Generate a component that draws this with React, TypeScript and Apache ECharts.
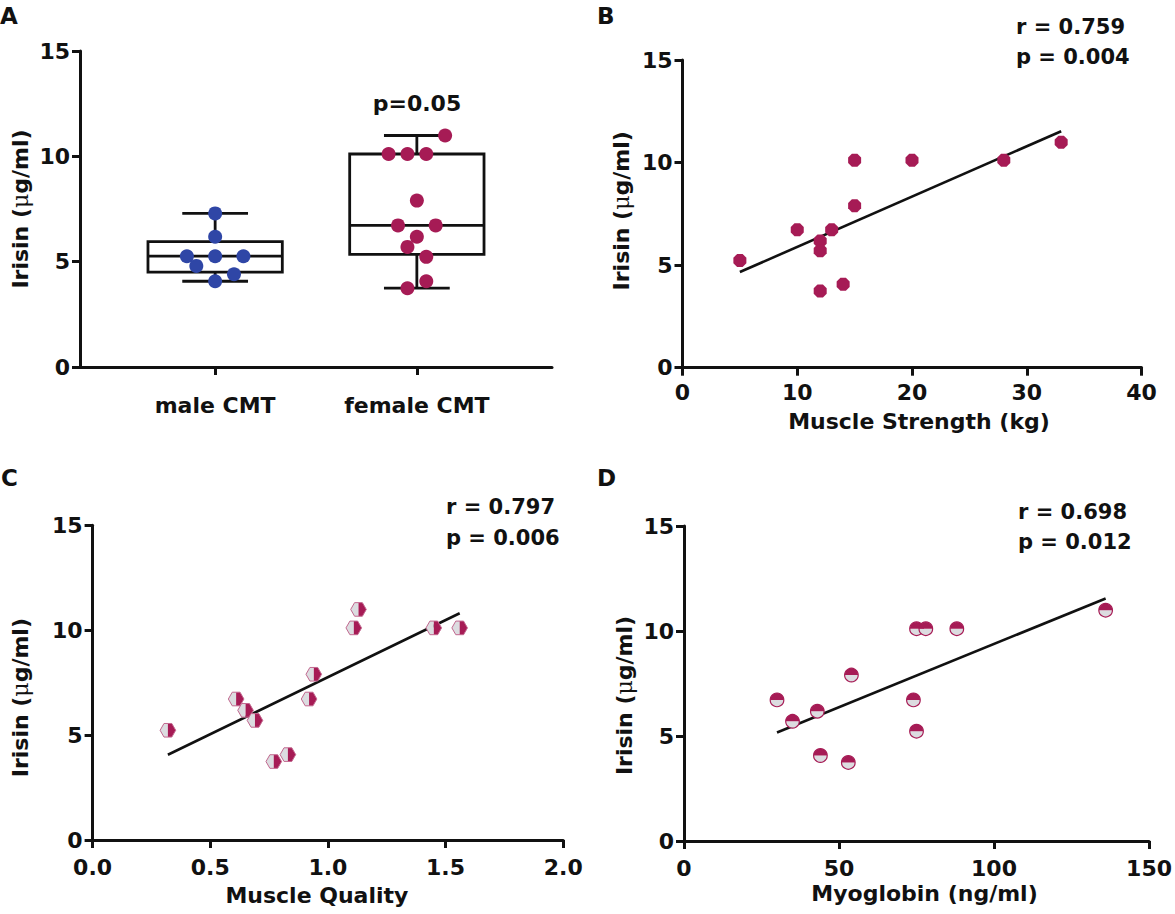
import React, { useEffect, useRef } from "react";
import * as echarts from "echarts";

const FONT = "'DejaVu Sans', 'Liberation Sans', Arial, sans-serif";
const CRIMSON = "#a61b55";
const CRIMSON_EDGE = "#c2688f";
const BLUE = "#2f46a6";
const GREY = "#dcdce0";
const INK = "#111111";

// ---- Panel A: irisin by sex (box + dots) ----
const groupNames = ["male CMT", "female CMT"];
const maleIrisin = [7.29, 6.18, 5.26, 5.26, 5.26, 4.8, 4.4, 4.07];
const maleSlots = [0, 0, -3, 0, 3, -2, 2, 0];
const femaleIrisin = [10.99, 10.11, 10.11, 10.11, 7.9, 6.72, 6.72, 6.18, 5.7, 5.23, 4.07, 3.74];
const femaleSlots = [3, -3, -1, 1, 0, -2, 2, 0, -1, 1, 1, -1];
const groupPValue = "p=0.05";

// ---- Panel B: irisin vs muscle strength ----
const strengthKg = [5, 10, 12, 12, 12, 13, 14, 15, 15, 20, 28, 33];
const irisinVsStrength = [5.23, 6.72, 6.18, 5.7, 3.74, 6.72, 4.07, 7.9, 10.11, 10.11, 10.11, 10.99];
const statsStrength = ["r = 0.759", "p = 0.004"];

// ---- Panel C: irisin vs muscle quality ----
const muscleQuality = [0.32, 0.61, 0.65, 0.69, 0.77, 0.83, 0.92, 0.94, 1.11, 1.13, 1.45, 1.56];
const irisinVsQuality = [5.23, 6.72, 6.18, 5.7, 3.74, 4.07, 6.72, 7.9, 10.11, 10.99, 10.11, 10.11];
const statsQuality = ["r = 0.797", "p = 0.006"];

// ---- Panel D: irisin vs myoglobin ----
const myoglobin = [30, 35, 43, 44, 53, 54, 74, 75, 75, 78, 88, 136];
const irisinVsMyoglobin = [6.72, 5.7, 6.18, 4.07, 3.74, 7.9, 6.72, 5.23, 10.11, 10.11, 10.11, 10.99];
const statsMyoglobin = ["r = 0.698", "p = 0.012"];

const irisinAxis = { min: 0, max: 15, interval: 5 };
const strengthAxis = { min: 0, max: 40, interval: 10 };
const qualityAxis = { min: 0, max: 2, interval: 0.5 };
const myoglobinAxis = { min: 0, max: 150, interval: 50 };
const panelLetters = ["A", "B", "C", "D"];

// layout constants
const SLOT = 0.0467;
const BOX_HALF = 0.333;
const CAP_HALF = 0.163;

function quantile(sorted: number[], p: number) {
  const n = sorted.length;
  const pos = p * (n + 1);
  const lo = Math.floor(pos);
  const frac = pos - lo;
  if (lo < 1) return sorted[0];
  if (lo >= n) return sorted[n - 1];
  return sorted[lo - 1] + frac * (sorted[lo] - sorted[lo - 1]);
}

function boxStats(idx: number, vals: number[]) {
  const s = [...vals].sort((a, b) => a - b);
  return [idx, s[0], quantile(s, 0.25), quantile(s, 0.5), quantile(s, 0.75), s[s.length - 1]];
}

function fitLine(xs: number[], ys: number[]) {
  const n = xs.length;
  const mx = xs.reduce((a, b) => a + b, 0) / n;
  const my = ys.reduce((a, b) => a + b, 0) / n;
  let sxy = 0;
  let sxx = 0;
  for (let i = 0; i < n; i++) {
    sxy += (xs[i] - mx) * (ys[i] - my);
    sxx += (xs[i] - mx) * (xs[i] - mx);
  }
  const b = sxy / sxx;
  const a = my - b * mx;
  const x0 = Math.min(...xs);
  const x1 = Math.max(...xs);
  return [
    [x0, a + b * x0],
    [x1, a + b * x1],
  ];
}

const pairs = (xs: number[], ys: number[]) => xs.map((x, i) => [x, ys[i]]);

const axisLine = { show: true, onZero: false, lineStyle: { color: INK, width: 3 } };
const axisTick = { show: true, length: 8, lineStyle: { color: INK, width: 3 } };
const labelStyle = { color: INK, fontFamily: FONT, fontWeight: "bold" as const, fontSize: 22 };
const nameStyle = { color: INK, fontFamily: FONT, fontWeight: "bold" as const, fontSize: 22 };

const grids = [
  { left: 80, top: 51, width: 472, height: 316 },
  { left: 682.5, top: 60, width: 459, height: 307.7 },
  { left: 92.6, top: 525.3, width: 470.6, height: 314.7 },
  { left: 684, top: 526, width: 472, height: 315 },
];

function yAxisFor(gi: number, nameGap: number, shift: number) {
  return {
    type: "value",
    gridIndex: gi,
    ...irisinAxis,
    axisLine,
    axisTick,
    axisLabel: { ...labelStyle, margin: 10 },
    splitLine: { show: false },
    name: "{b|Irisin (}{m|\u03bc}{b|g/ml)}",
    nameLocation: "middle",
    nameGap,
    nameTextStyle: {
      padding: shift >= 0 ? [0, shift * 2, 0, 0] : [0, 0, 0, -shift * 2],
      rich: {
        b: { ...nameStyle },
        m: { ...nameStyle, fontWeight: "normal", fontFamily: "'DejaVu Serif', serif" },
      },
    },
  };
}

function hexMarker(params: any, api: any) {
  const [cx, cy] = api.coord([api.value(0), api.value(1)]);
  const r = 7.8;
  const h = 6.8;
  return {
    type: "group",
    children: [
      {
        type: "polygon",
        shape: { points: [[cx - r, cy], [cx - r / 2, cy - h], [cx, cy - h], [cx, cy + h], [cx - r / 2, cy + h]] },
        style: { fill: GREY },
      },
      {
        type: "polygon",
        shape: { points: [[cx, cy - h], [cx + r / 2, cy - h], [cx + r, cy], [cx + r / 2, cy + h], [cx, cy + h]] },
        style: { fill: CRIMSON },
      },
      {
        type: "polygon",
        shape: {
          points: [[cx - r, cy], [cx - r / 2, cy - h], [cx + r / 2, cy - h], [cx + r, cy], [cx + r / 2, cy + h], [cx - r / 2, cy + h]],
        },
        style: { fill: "none", stroke: CRIMSON_EDGE, lineWidth: 1 },
      },
    ],
  };
}

function halfCircleMarker(params: any, api: any) {
  const [cx, cy] = api.coord([api.value(0), api.value(1)]);
  const r = 6.8;
  return {
    type: "group",
    children: [
      { type: "sector", shape: { cx, cy, r0: 0, r, startAngle: 0, endAngle: Math.PI }, style: { fill: GREY } },
      { type: "sector", shape: { cx, cy, r0: 0, r, startAngle: Math.PI, endAngle: Math.PI * 2 }, style: { fill: CRIMSON } },
      { type: "circle", shape: { cx, cy, r }, style: { fill: "none", stroke: CRIMSON, lineWidth: 1.2 } },
    ],
  };
}

function boxRender(params: any, api: any) {
  const x = api.value(0);
  const lo = api.value(1);
  const q1 = api.value(2);
  const med = api.value(3);
  const q3 = api.value(4);
  const hi = api.value(5);
  const pt = (dx: number, v: number) => api.coord([x + dx, v]);
  const [bl, yq3] = pt(-BOX_HALF, q3);
  const [br, yq1] = pt(BOX_HALF, q1);
  const [, ymed] = pt(0, med);
  const [cxp, ylo] = pt(0, lo);
  const [, yhi] = pt(0, hi);
  const [cl] = pt(-CAP_HALF, lo);
  const [cr] = pt(CAP_HALF, lo);
  const st = { stroke: INK, lineWidth: 2.8, fill: "none" };
  return {
    type: "group",
    children: [
      { type: "line", shape: { x1: cxp, y1: yhi, x2: cxp, y2: yq3 }, style: st },
      { type: "line", shape: { x1: cxp, y1: yq1, x2: cxp, y2: ylo }, style: st },
      { type: "line", shape: { x1: cl, y1: yhi, x2: cr, y2: yhi }, style: st },
      { type: "line", shape: { x1: cl, y1: ylo, x2: cr, y2: ylo }, style: st },
      { type: "rect", shape: { x: bl, y: yq3, width: br - bl, height: yq1 - yq3 }, style: { stroke: INK, lineWidth: 2.8, fill: "#fff" } },
      { type: "line", shape: { x1: bl, y1: ymed, x2: br, y2: ymed }, style: st },
    ],
  };
}

function fitSeries(idx: number, xs: number[], ys: number[]) {
  return {
    type: "line",
    xAxisIndex: idx,
    yAxisIndex: idx,
    data: fitLine(xs, ys),
    symbol: "none",
    lineStyle: { color: INK, width: 2.6 },
    z: 3,
    silent: true,
  };
}

function textEl(text: string, x: number, y: number, align = "left", size = 21) {
  return {
    type: "text",
    x,
    y,
    style: { text, fill: INK, font: `bold ${size}px ${FONT}`, align, verticalAlign: "middle" },
  };
}

const OCTAGON = "path://M29,0 L71,0 L100,29 L100,71 L71,100 L29,100 L0,71 L0,29 Z";

export default function App() {
  const ref = useRef<HTMLDivElement>(null);

  useEffect(() => {
    document.body.style.margin = "0";
    if (!ref.current) return;
    const chart = echarts.init(ref.current, undefined, { renderer: "svg" });

    const option = {
      animation: false,
      backgroundColor: "#ffffff",
      grid: grids.map((g) => ({ ...g, containLabel: false })),
      xAxis: [
        {
          type: "value",
          gridIndex: 0,
          min: -0.67,
          max: 1.67,
          axisLine,
          axisTick: { ...axisTick, customValues: [0, 1] },
          axisLabel: {
            ...labelStyle,
            margin: 27,
            customValues: [0, 1],
            formatter: (v: number) => groupNames[Math.round(v)] ?? "",
          },
          splitLine: { show: false },
        },
        {
          type: "value",
          gridIndex: 1,
          ...strengthAxis,
          axisLine,
          axisTick,
          axisLabel: { ...labelStyle, margin: 14 },
          splitLine: { show: false },
          name: "Muscle Strength (kg)",
          nameLocation: "middle",
          nameGap: 43,
          nameTextStyle: { ...nameStyle, padding: [0, 0, 0, 14] },
        },
        {
          type: "value",
          gridIndex: 2,
          ...qualityAxis,
          axisLine,
          axisTick,
          axisLabel: { ...labelStyle, margin: 16, formatter: (v: number) => v.toFixed(1) },
          splitLine: { show: false },
          name: "Muscle Quality",
          nameLocation: "middle",
          nameGap: 44,
          nameTextStyle: { ...nameStyle, padding: [0, 22, 0, 0] },
        },
        {
          type: "value",
          gridIndex: 3,
          ...myoglobinAxis,
          axisLine,
          axisTick,
          axisLabel: { ...labelStyle, margin: 16 },
          splitLine: { show: false },
          name: "Myoglobin (ng/ml)",
          nameLocation: "middle",
          nameGap: 41,
          nameTextStyle: { ...nameStyle, padding: [0, 0, 0, 16] },
        },
      ],
      yAxis: [yAxisFor(0, 49, 0), yAxisFor(1, 50, -3), yAxisFor(2, 61, 15), yAxisFor(3, 49, 12)],
      series: [
        {
          type: "custom",
          xAxisIndex: 0,
          yAxisIndex: 0,
          renderItem: boxRender,
          encode: { x: 0, y: [1, 2, 3, 4, 5] },
          data: [boxStats(0, maleIrisin), boxStats(1, femaleIrisin)],
          z: 2,
          silent: true,
        },
        {
          type: "scatter",
          xAxisIndex: 0,
          yAxisIndex: 0,
          symbol: "circle",
          symbolSize: 14,
          itemStyle: { color: BLUE, opacity: 1 },
          data: maleIrisin.map((v, i) => [0 + maleSlots[i] * SLOT, v]),
          z: 5,
        },
        {
          type: "scatter",
          xAxisIndex: 0,
          yAxisIndex: 0,
          symbol: "circle",
          symbolSize: 14,
          itemStyle: { color: CRIMSON, opacity: 1 },
          data: femaleIrisin.map((v, i) => [1 + femaleSlots[i] * SLOT, v]),
          z: 5,
        },
        fitSeries(1, strengthKg, irisinVsStrength),
        {
          type: "scatter",
          xAxisIndex: 1,
          yAxisIndex: 1,
          symbol: OCTAGON,
          symbolSize: 13,
          itemStyle: { color: CRIMSON, opacity: 1 },
          data: pairs(strengthKg, irisinVsStrength),
          z: 5,
        },
        fitSeries(2, muscleQuality, irisinVsQuality),
        {
          type: "custom",
          xAxisIndex: 2,
          yAxisIndex: 2,
          renderItem: hexMarker,
          encode: { x: 0, y: 1 },
          data: pairs(muscleQuality, irisinVsQuality),
          z: 5,
        },
        fitSeries(3, myoglobin, irisinVsMyoglobin),
        {
          type: "custom",
          xAxisIndex: 3,
          yAxisIndex: 3,
          renderItem: halfCircleMarker,
          encode: { x: 0, y: 1 },
          data: pairs(myoglobin, irisinVsMyoglobin),
          z: 5,
        },
      ],
      graphic: [
        textEl(panelLetters[0], 0, 16, "left", 23),
        textEl(panelLetters[1], 597, 16, "left", 23),
        textEl(panelLetters[2], 1, 478, "left", 23),
        textEl(panelLetters[3], 597, 478, "left", 23),
        textEl(groupPValue, 417, 103, "center", 22),
        textEl(statsStrength[0], 1016, 27),
        textEl(statsStrength[1], 1016, 57),
        textEl(statsQuality[0], 446, 507),
        textEl(statsQuality[1], 446, 538),
        textEl(statsMyoglobin[0], 1018, 512),
        textEl(statsMyoglobin[1], 1018, 542),
      ],
    };

    chart.setOption(option as any);
    return () => {
      chart.dispose();
    };
  }, []);

  return <div ref={ref} style={{ width: 1175, height: 914, background: "#fff" }} />;
}
